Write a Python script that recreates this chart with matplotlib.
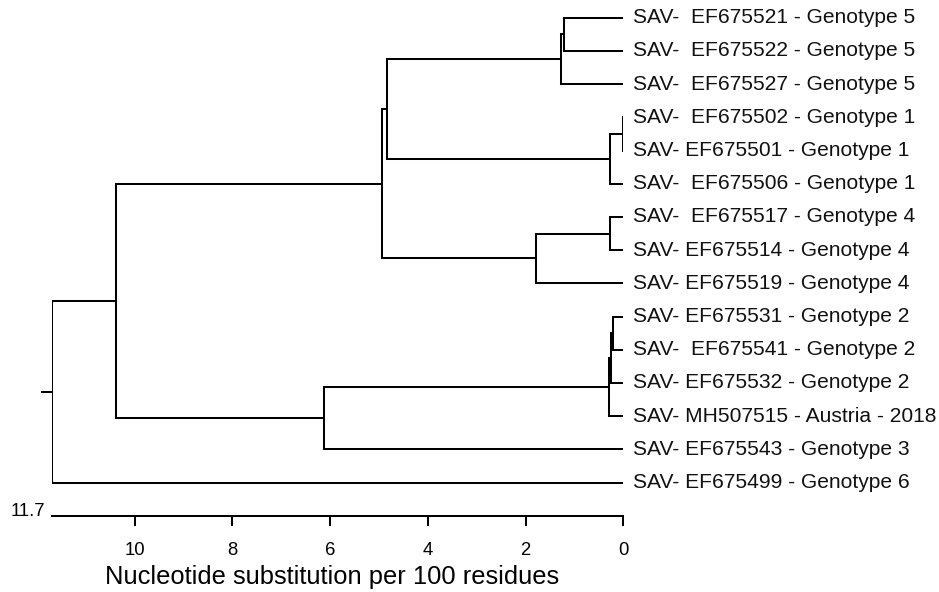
import matplotlib
matplotlib.use("Agg")
import matplotlib.pyplot as plt

# ---- data ----
leaf_labels = [
    "SAV-  EF675521 - Genotype 5",
    "SAV-  EF675522 - Genotype 5",
    "SAV-  EF675527 - Genotype 5",
    "SAV-  EF675502 - Genotype 1",
    "SAV- EF675501 - Genotype 1",
    "SAV-  EF675506 - Genotype 1",
    "SAV-  EF675517 - Genotype 4",
    "SAV- EF675514 - Genotype 4",
    "SAV- EF675519 - Genotype 4",
    "SAV- EF675531 - Genotype 2",
    "SAV-  EF675541 - Genotype 2",
    "SAV- EF675532 - Genotype 2",
    "SAV- MH507515 - Austria - 2018",
    "SAV- EF675543 - Genotype 3",
    "SAV- EF675499 - Genotype 6",
]
# internal nodes (ids continue after leaves), in creation order
merge_a = [0, 15, 3, 17, 16, 6, 20, 19, 9, 23, 24, 25, 22, 27]
merge_b = [1, 2, 4, 5, 18, 7, 8, 21, 10, 11, 12, 13, 26, 14]
merge_height = [1.21, 1.27, 0.0, 0.28, 4.84, 0.28, 1.78, 4.93,
                0.22, 0.26, 0.30, 6.12, 10.38, 11.7]
tick_values = [10, 8, 6, 4, 2, 0]
scale_max = 11.7
xlabel = "Nucleotide substitution per 100 residues"

# ---- figure ----
W, H, DPI = 939, 592, 100
fig = plt.figure(figsize=(W / DPI, H / DPI), dpi=DPI)
font = "Liberation Sans"
row0, rowstep = 17.7, 33.2
x0_px, x117_px, spine_px = 623.3, 51.5, 515.7
ax = fig.add_axes([x117_px / W, (H - spine_px) / H,
                   (x0_px - x117_px) / W, spine_px / H])
ax.set_xlim(scale_max, 0)
ax.set_ylim((spine_px - row0) / rowstep, -row0 / rowstep)

lw = 1.45
col = "black"
n = len(leaf_labels)
ypos = {i: float(i) for i in range(n)}
hpos = {i: 0.0 for i in range(n)}
for k, (a, b, h) in enumerate(zip(merge_a, merge_b, merge_height)):
    nid = n + k
    ypos[nid] = (ypos[a] + ypos[b]) / 2
    hpos[nid] = h
    # vertical
    ax.plot([h, h], [ypos[a], ypos[b]], color=col, lw=lw, solid_capstyle="projecting")
    # horizontals to children
    for c in (a, b):
        ax.plot([h, hpos[c]], [ypos[c], ypos[c]], color=col, lw=lw,
                solid_capstyle="projecting")

root = n + len(merge_height) - 1
ax.plot([hpos[root], hpos[root] + 0.2], [ypos[root], ypos[root]],
        color=col, lw=lw, clip_on=False)

for i, lab in enumerate(leaf_labels):
    ax.annotate(lab, xy=(0, i), xytext=(7, 0), textcoords="offset points",
                ha="left", va="center", fontsize=15.1, family=font,
                color="#111111", annotation_clip=False)

# scale axis
for s in ("top", "left", "right"):
    ax.spines[s].set_visible(False)
ax.spines["bottom"].set_bounds(0, scale_max)
ax.spines["bottom"].set_linewidth(lw)
ax.set_yticks([])
ax.set_xticks(tick_values)
ax.set_xticklabels([str(v) for v in tick_values], family=font, fontsize=13.3)
ax.tick_params(axis="x", direction="out", length=7.2, width=lw, pad=11.5,
               colors="black")
ax.set_xlabel(xlabel, family=font, fontsize=18.4, labelpad=4.5)
ax.xaxis.label.set_x(0.4906)
ax.annotate(f"{scale_max}", xy=(scale_max, 0), xycoords=("data", "axes fraction"),
            xytext=(-4.5, 0), textcoords="offset points", ha="right",
            va="baseline", fontsize=13.3, family=font, annotation_clip=False)

fig.savefig("out.png", dpi=DPI)
